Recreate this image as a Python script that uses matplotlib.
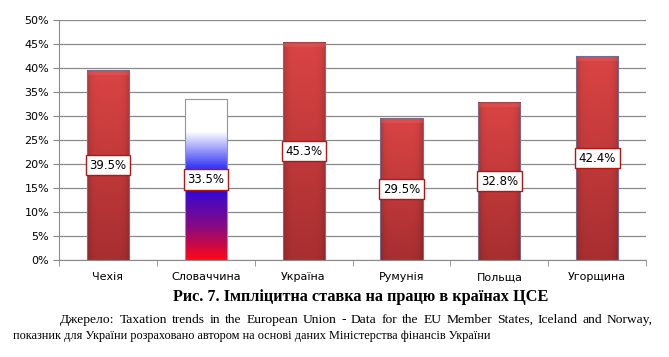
import numpy as np
import matplotlib.pyplot as plt
import matplotlib.colors as mcolors

countries = ["Чехія", "Словаччина", "Україна", "Румунія", "Польща", "Угорщина"]
rates = [39.5, 33.5, 45.3, 29.5, 32.8, 42.4]
labels = ["39.5%", "33.5%", "45.3%", "29.5%", "32.8%", "42.4%"]
yticks = [0, 5, 10, 15, 20, 25, 30, 35, 40, 45, 50]

title = "Рис. 7. Імпліцитна ставка на працю в країнах ЦСЕ"
src1 = "Джерело: Taxation trends in the European Union - Data for the EU Member States, Iceland and Norway,"
src2 = "показник для України розраховано автором на основі даних Міністерства фінансів України"

fig = plt.figure(figsize=(6.69, 3.57), dpi=100)
ax = fig.add_axes([0.088, 0.272, 0.878, 0.672])

x = np.arange(len(countries))
w = 0.43


def red_grad(h):
    # vertical: darker at bottom, horizontal: darker at the edges
    n = int(h * 4.8)
    v = np.linspace(0, 1, n)[:, None]
    top = np.array(mcolors.to_rgb("#da4444"))
    bot = np.array(mcolors.to_rgb("#a82e30"))
    img = bot + (top - bot) * v[..., None]
    hx = np.linspace(-1, 1, 40)
    shade = 1 - 0.18 * np.abs(hx) ** 6
    img = img * shade[None, :, None]
    # soft bevel at the top
    img[-5:] = img[-5:] * 0.75 + np.array(mcolors.to_rgb("#f07070")) * 0.25
    img[-1] = img[-1] * 0.8
    return np.clip(img, 0, 1)


def flag_grad(h):
    stops = [(0.0, "#ff0814"), (0.2, "#8a0a80"), (0.44, "#3008d8"),
             (0.58, "#3a3cf8"), (0.8, "#ffffff"), (1.0, "#ffffff")]
    cmap = mcolors.LinearSegmentedColormap.from_list("sk", stops)
    v = np.linspace(0, 1, 200)
    img = cmap(v)[:, None, :3] * np.ones((1, 10, 1))
    return img


for i, r in enumerate(rates):
    if i == 1:
        img = flag_grad(r)
        ec = "#7d9ab8"
    else:
        img = red_grad(r)
        ec = "#7a6a8c"
    ax.imshow(img, extent=(i - w / 2, i + w / 2, 0, r), origin="lower",
              aspect="auto", zorder=2, interpolation="bilinear")
    ax.bar(i, r, width=w, facecolor="none", edgecolor=ec, linewidth=0.8, zorder=3)
    ax.text(i, r / 2, labels[i], ha="center", va="center", fontsize=8.5, zorder=4,
            bbox=dict(boxstyle="square,pad=0.3", facecolor="white",
                      edgecolor="#b01818", linewidth=1))

ax.set_xlim(-0.5, 5.5)
ax.set_ylim(0, 50)
ax.set_yticks(yticks)
ax.set_yticklabels([f"{t}%" for t in yticks], fontsize=8)
ax.set_xticks(x)
ax.set_xticklabels(countries, fontsize=8)
ax.tick_params(axis="x", length=0, pad=9)
ax.set_xticks(np.arange(-0.5, 6, 1), minor=True)
ax.tick_params(axis="x", which="minor", length=4, color="#888888")
ax.tick_params(axis="y", length=4, color="#888888", pad=3)
ax.grid(axis="y", color="#8a8a8a", linewidth=0.9, zorder=0)
ax.set_axisbelow(True)
for s in ["top", "right"]:
    ax.spines[s].set_visible(False)
for s in ["left", "bottom"]:
    ax.spines[s].set_color("#8a8a8a")

fig.text(361 / 669, 1 - 297 / 357, title, ha="center", va="center",
         fontsize=11.7, fontweight="bold", family="Liberation Serif")

# first source line is justified between 60 px and 653 px
words = src1.split(" ")
r = fig.canvas.get_renderer()
items = [fig.text(0, 1 - 320 / 357, wd, ha="left", va="center",
                  fontsize=9.7, family="Liberation Serif") for wd in words]
widths = [t.get_window_extent(r).width for t in items]
gap = (653 - 60 - sum(widths)) / (len(words) - 1)
pos = 60.0
for t, wd in zip(items, widths):
    t.set_x(pos / 669)
    pos += wd + gap

fig.text(13 / 669, 1 - 336 / 357, src2, ha="left", va="center",
         fontsize=8.8, family="Liberation Serif")

fig.savefig("out.png", dpi=100)
